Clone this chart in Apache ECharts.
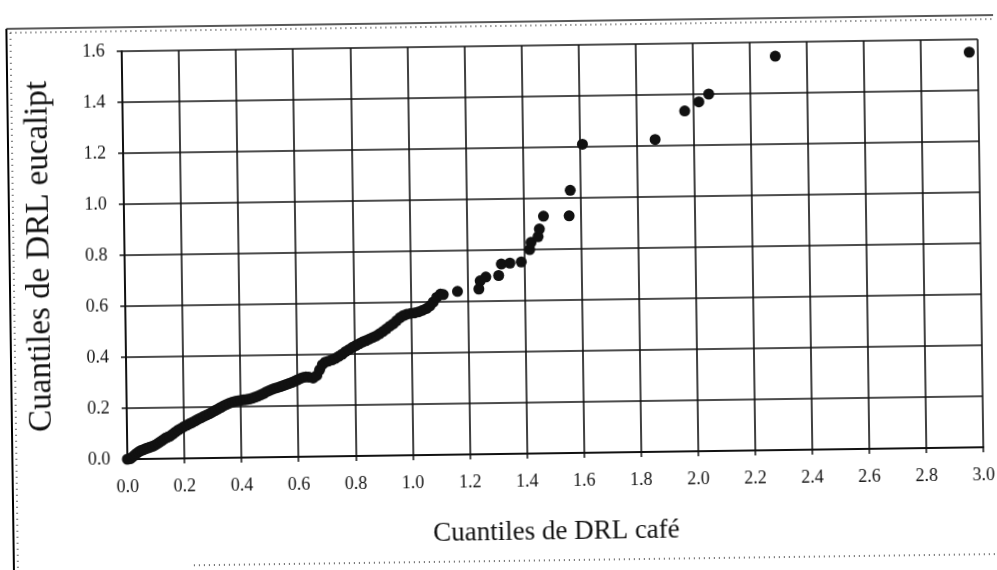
<!DOCTYPE html>
<html>
<head>
<meta charset="utf-8">
<title>Cuantiles DRL</title>
<script src="https://cdn.jsdelivr.net/npm/echarts@6.0.0/dist/echarts.min.js"></script>
<style>
  html, body { margin: 0; padding: 0; background: #fff; overflow: hidden; }
  /* the original is a slightly tilted scan */
  #chart { width: 997px; height: 570px; transform: rotate(-0.8deg); }
</style>
</head>
<body>
<div id="chart"></div>
<script>
// quantiles (x = café, y = eucalipt)
const cafeQ = [
  0.000, 0.010, 0.018, 0.025, 0.032, 0.040, 0.048, 0.056, 0.064, 0.072,
  0.080, 0.090, 0.100, 0.110, 0.118, 0.126, 0.134, 0.142, 0.150, 0.160,
  0.170, 0.180, 0.190, 0.200, 0.210, 0.220, 0.230, 0.240, 0.250, 0.260,
  0.270, 0.280, 0.290, 0.300, 0.310, 0.320, 0.330, 0.340, 0.350, 0.360,
  0.370, 0.380, 0.390, 0.400, 0.410, 0.420, 0.430, 0.440, 0.450, 0.460,
  0.470, 0.480, 0.490, 0.500, 0.510, 0.520, 0.530, 0.540, 0.550, 0.560,
  0.570, 0.580, 0.590, 0.600, 0.610, 0.620, 0.630, 0.640, 0.655, 0.668,
  0.678, 0.688, 0.698, 0.710, 0.722, 0.734, 0.746, 0.758, 0.770, 0.782,
  0.794, 0.806, 0.818, 0.830, 0.842, 0.854, 0.866, 0.878, 0.890, 0.902,
  0.914, 0.926, 0.938, 0.950, 0.962, 0.974, 0.986, 1.000, 1.014, 1.028,
  1.042, 1.056, 1.068, 1.080, 1.092, 1.105, 1.115, 1.165, 1.240, 1.245,
  1.265, 1.310, 1.320, 1.350, 1.390, 1.420, 1.425, 1.450, 1.455, 1.470,
  1.560, 1.565, 1.610, 1.865, 1.970, 2.020, 2.055, 2.290, 2.970
];
const eucaliptQ = [
  0.000, 0.002, 0.008, 0.015, 0.022, 0.028, 0.033, 0.036, 0.040, 0.043,
  0.046, 0.050, 0.055, 0.062, 0.068, 0.074, 0.080, 0.084, 0.088, 0.096,
  0.104, 0.112, 0.118, 0.125, 0.130, 0.136, 0.141, 0.147, 0.153, 0.158,
  0.164, 0.169, 0.174, 0.180, 0.186, 0.192, 0.198, 0.204, 0.209, 0.214,
  0.218, 0.221, 0.223, 0.225, 0.226, 0.227, 0.229, 0.232, 0.236, 0.240,
  0.245, 0.250, 0.256, 0.261, 0.266, 0.270, 0.273, 0.276, 0.280, 0.284,
  0.288, 0.292, 0.297, 0.302, 0.307, 0.311, 0.313, 0.312, 0.308, 0.318,
  0.340, 0.360, 0.370, 0.374, 0.378, 0.384, 0.392, 0.400, 0.410, 0.418,
  0.426, 0.433, 0.440, 0.447, 0.452, 0.458, 0.464, 0.470, 0.478, 0.487,
  0.497, 0.507, 0.516, 0.528, 0.540, 0.548, 0.553, 0.556, 0.558, 0.562,
  0.568, 0.575, 0.585, 0.600, 0.618, 0.630, 0.628, 0.640, 0.648, 0.680,
  0.695, 0.700, 0.745, 0.748, 0.752, 0.800, 0.828, 0.850, 0.880, 0.930,
  0.930, 1.030, 1.210, 1.225, 1.335, 1.370, 1.400, 1.545, 1.550
];

const xTicks = { min: 0, max: 3.0, step: 0.2 };
const yTicks = { min: 0, max: 1.6, step: 0.2 };

const serif = '"Liberation Serif", "Times New Roman", serif';
const ink = '#111';

const chart = echarts.init(document.getElementById('chart'));

const points = cafeQ.map((x, i) => [x, eucaliptQ[i]]);

const axisCommon = {
  type: 'value',
  nameLocation: 'middle',
  nameTextStyle: { fontFamily: serif, color: ink },
  axisLine: { show: true, lineStyle: { color: ink, width: 2 } },
  axisTick: { show: true, length: 5, lineStyle: { color: ink, width: 1.5 } },
  splitLine: { show: true, lineStyle: { color: ink, width: 1.6 } },
  axisLabel: {
    fontFamily: serif,
    fontSize: 18,
    color: ink,
    formatter: v => v.toFixed(1)
  }
};

const option = {
  backgroundColor: '#fff',
  animation: false,
  grid: { left: 125, right: 16, top: 46, bottom: 116 },
  xAxis: Object.assign({}, axisCommon, {
    min: xTicks.min,
    max: xTicks.max,
    interval: xTicks.step,
    name: 'Cuantiles de DRL café',
    nameGap: 65,
    nameTextStyle: { fontFamily: serif, color: ink, fontSize: 27 },
    axisLabel: Object.assign({}, axisCommon.axisLabel, { margin: 19 })
  }),
  yAxis: Object.assign({}, axisCommon, {
    min: yTicks.min,
    max: yTicks.max,
    interval: yTicks.step,
    name: 'Cuantiles de DRL eucalipt',
    nameGap: 68,
    nameTextStyle: { fontFamily: serif, color: ink, fontSize: 33 },
    axisLabel: Object.assign({}, axisCommon.axisLabel, { margin: 17 })
  }),
  graphic: [
    { type: 'line', shape: { x1: 10, y1: 22, x2: 10, y2: 600 }, style: { stroke: '#000', lineWidth: 2 } },
    { type: 'line', shape: { x1: 14, y1: 26, x2: 14, y2: 600 }, style: { stroke: '#333', lineWidth: 1.5, lineDash: [1, 5] } },
    { type: 'line', shape: { x1: 10, y1: 22, x2: 1020, y2: 22 }, style: { stroke: '#222', lineWidth: 1.5 } },
    { type: 'line', shape: { x1: 14, y1: 26, x2: 1020, y2: 26 }, style: { stroke: '#333', lineWidth: 1.5, lineDash: [1, 4] } },
    { type: 'line', shape: { x1: 190, y1: 561, x2: 1020, y2: 561 }, style: { stroke: '#333', lineWidth: 1.5, lineDash: [1, 4] } }
  ],
  series: [{
    type: 'scatter',
    data: points,
    symbol: 'circle',
    symbolSize: 11,
    itemStyle: { color: ink, opacity: 1 }
  }]
};

chart.setOption(option);
</script>
</body>
</html>
